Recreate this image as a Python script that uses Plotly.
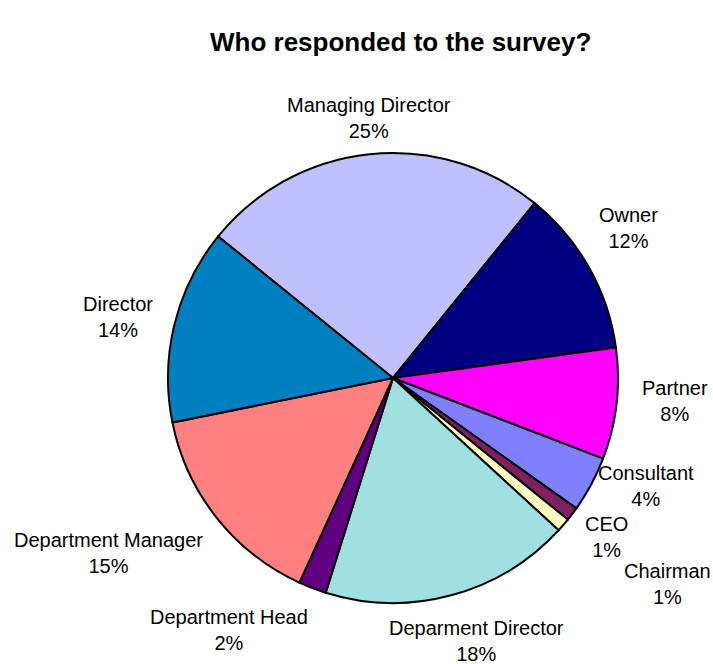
import plotly.graph_objects as go

# ---- data ----
categories = ["Managing Director", "Owner", "Partner", "Consultant", "CEO",
              "Chairman", "Deparment Director", "Department Head",
              "Department Manager", "Director"]
percent_values = [25, 12, 8, 4, 1, 1, 18, 2, 15, 14]
slice_colors = ["#C0C0FF", "#000080", "#FF00FF", "#8080FF", "#80205F",
                "#FFFFC0", "#A0E0E0", "#600080", "#FF8080", "#0080C0"]

# label centres in pixels (layout only)
label_px = [(369, 118), (628, 228), (675, 401), (646, 486), (606, 537),
            (667, 584), (476, 641), (229, 630), (108, 553), (118, 317)]

W, H = 713, 664
cx, cy, r = 393, 378, 225

fig = go.Figure(go.Pie(
    labels=categories,
    values=percent_values,
    sort=False,
    direction="clockwise",
    rotation=-51,
    textinfo="none",
    hoverinfo="none",
    marker=dict(colors=slice_colors, line=dict(color="black", width=2)),
    domain=dict(x=[(cx - r) / W, (cx + r) / W],
                y=[(H - cy - r) / H, (H - cy + r) / H]),
    showlegend=False,
))

font_family = "Arial, 'Liberation Sans', sans-serif"
annotations = []
for cat, val, (px, py) in zip(categories, percent_values, label_px):
    annotations.append(dict(
        x=px / W, y=1 - py / H, xref="paper", yref="paper",
        text=f"{cat}<br>{val}%", showarrow=False,
        xanchor="center", yanchor="middle", align="center",
        font=dict(family=font_family, size=20, color="black"),
    ))

annotations.append(dict(
    x=400 / W, y=1 - 42 / H, xref="paper", yref="paper",
    text="<b>Who responded to the survey?</b>", showarrow=False,
    xanchor="center", yanchor="middle",
    font=dict(family=font_family, size=26, color="black"),
))

fig.update_layout(
    width=W, height=H,
    margin=dict(l=0, r=0, t=0, b=0),
    paper_bgcolor="white", plot_bgcolor="white",
    annotations=annotations,
)

fig.write_html("out.html")
